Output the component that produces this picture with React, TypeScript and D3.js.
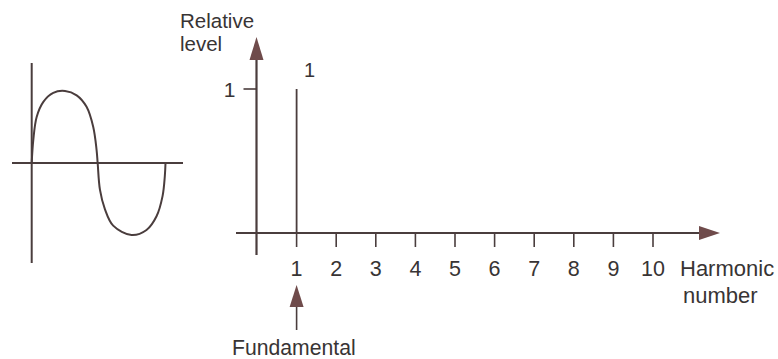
import React from "react";
import * as d3 from "d3";

// Harmonic numbers shown on the spectrum axis
const harmonicNumbers = [1, 2, 3, 4, 5, 6, 7, 8, 9, 10];
// Spectral lines: harmonic number and its relative level
const lineHarmonics = [1];
const lineLevels = [1];
// Y-axis tick values
const levelTicks = [1];

// One cycle of the waveform: phase (0..1) and level (-1..1)
const wavePhase = [0, 0.012, 0.037, 0.087, 0.161, 0.249, 0.336, 0.41, 0.46, 0.485, 0.493, 0.51, 0.547, 0.609, 0.746, 0.858, 0.933, 0.978, 0.995, 1];
const waveLevel = [0, 0.32, 0.64, 0.85, 0.975, 1, 0.94, 0.78, 0.5, 0.18, 0, -0.37, -0.64, -0.87, -1, -0.93, -0.74, -0.46, -0.18, 0];

const W = 778;
const H = 359;
const LINE = "#4a3d3d";
const HEAD = "#6f4b4b";
const TEXT = "#383434";
const FONT = "'Liberation Sans', Arial, Helvetica, sans-serif";

export default function App() {
  // Spectrum scales
  const x = d3.scaleLinear().domain([0, 10]).range([257, 653]);
  const y = d3.scaleLinear().domain([0, 1]).range([233, 89]);
  const axisY = y(0);
  const axisX = x(0) - 0.5;

  // Waveform scales
  const wx = d3.scaleLinear().domain([0, 1]).range([31.7, 165.5]);
  const wy = d3.scaleLinear().domain([-1, 1]).range([235, 91]);
  const wave = d3
    .line<number>()
    .x((_, i) => wx(wavePhase[i]))
    .y((d) => wy(d))
    .curve(d3.curveCatmullRom.alpha(0.5));

  const xEnd = 720;
  const yTop = 37;
  const fx = x(lineHarmonics[0]);

  return (
    <svg
      width={W}
      height={H}
      style={{ position: "absolute", left: 0, top: 0, background: "#ffffff" }}
      fontFamily={FONT}
    >
      {/* waveform axes */}
      <line x1={wx(0)} x2={wx(0)} y1={63} y2={263} stroke={LINE} strokeWidth={2} />
      <line x1={12} x2={183} y1={wy(0)} y2={wy(0)} stroke={LINE} strokeWidth={2} />
      <path d={wave(waveLevel) || ""} fill="none" stroke={LINE} strokeWidth={2} />

      {/* spectrum y axis */}
      <line x1={axisX} x2={axisX} y1={255} y2={yTop + 18} stroke={LINE} strokeWidth={2.2} />
      <path
        d={`M${axisX},${yTop} L${axisX - 7},${yTop + 23} L${axisX + 7},${yTop + 23} Z`}
        fill={HEAD}
      />
      {levelTicks.map((t) => (
        <g key={`lt${t}`}>
          <line x1={axisX - 13} x2={axisX} y1={y(t)} y2={y(t)} stroke={LINE} strokeWidth={1.6} />
          <text x={axisX - 21} y={y(t) + 7.5} fontSize={21} textAnchor="end" fill={TEXT}>
            {t}
          </text>
        </g>
      ))}
      <text x={180} y={28} fontSize={20.5} fill={TEXT}>Relative</text>
      <text x={180} y={51} fontSize={20.5} fill={TEXT}>level</text>

      {/* spectrum x axis */}
      <line x1={236} x2={xEnd - 16} y1={axisY} y2={axisY} stroke={LINE} strokeWidth={2.2} />
      <path
        d={`M${xEnd},${axisY} L${xEnd - 21},${axisY - 7} L${xEnd - 21},${axisY + 7} Z`}
        fill={HEAD}
      />
      {harmonicNumbers.map((n) => (
        <g key={`h${n}`}>
          <line x1={x(n)} x2={x(n)} y1={axisY} y2={axisY + 14} stroke={LINE} strokeWidth={1.6} />
          <text x={x(n)} y={276} fontSize={21.5} textAnchor="middle" fill={TEXT}>
            {n}
          </text>
        </g>
      ))}
      <text x={680} y={276} fontSize={22} fill={TEXT}>Harmonic</text>
      <text x={683} y={303} fontSize={22} fill={TEXT}>number</text>

      {/* spectral lines */}
      {lineHarmonics.map((n, i) => (
        <g key={`l${n}`}>
          <line x1={x(n)} x2={x(n)} y1={axisY} y2={y(lineLevels[i])} stroke={LINE} strokeWidth={1.8} />
          <text x={x(n) + 13} y={y(lineLevels[i]) - 12} fontSize={20} textAnchor="middle" fill={TEXT}>
            {lineLevels[i]}
          </text>
        </g>
      ))}

      {/* fundamental pointer */}
      <line x1={fx} x2={fx} y1={330} y2={300} stroke={LINE} strokeWidth={1.6} />
      <path d={`M${fx},285 L${fx - 7},307 L${fx + 7},307 Z`} fill={HEAD} />
      <text x={232} y={355} fontSize={21.2} fill={TEXT}>Fundamental</text>
    </svg>
  );
}
